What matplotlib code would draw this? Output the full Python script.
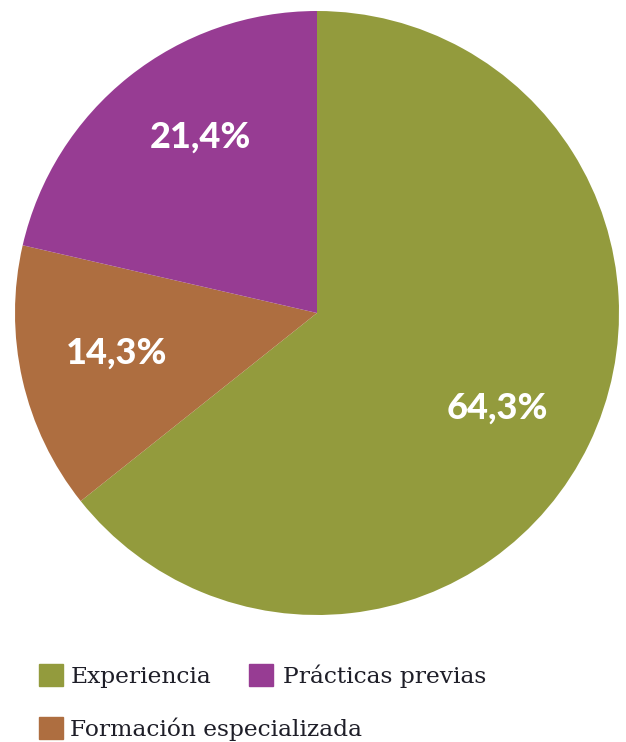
import matplotlib.pyplot as plt
from matplotlib.patches import Patch
import numpy as np

# datos
categorias = ['Experiencia', 'Formación especializada', 'Prácticas previas']
valores = [64.3, 14.3, 21.4]
etiquetas = ['64,3%', '14,3%', '21,4%']
colores = ['#939b3d', '#ae6e40', '#973c93']

W, H = 626, 742
fig = plt.figure(figsize=(W/100, H/100), dpi=100)
ax = fig.add_axes([15/W, 127/H, 604/W, 604/H])

wedges, _ = ax.pie(valores, colors=colores, startangle=90, counterclock=False,
                   radius=1, wedgeprops=dict(linewidth=0))
ax.set_xlim(-1, 1)
ax.set_ylim(-1, 1)
ax.set_aspect('equal')

# etiquetas de porcentaje (distancia al centro y pequeño giro respecto al medio de la porción)
distancias = [0.674, 0.675, 0.70]
giros = [-2.0, -1.5, -5.0]
for w, d, g, t in zip(wedges, distancias, giros, etiquetas):
    mid = np.deg2rad((w.theta1 + w.theta2) / 2 + g)
    ax.text(d*np.cos(mid), d*np.sin(mid), t, ha='center', va='center',
            color='white', fontsize=26, fontweight='black', family='Lato')

# leyenda (una por elemento para colocarlas como en el original)
posiciones = [(39, 676), (39, 729), (249, 676)]
pads = [0.32, 0.32, 0.42]
for cat, col, (x, y), p in zip(categorias, colores, posiciones, pads):
    fig.legend(handles=[Patch(color=col, label=cat)], loc='center left',
               bbox_to_anchor=(x/W, 1-y/H), frameon=False, borderpad=0,
               borderaxespad=0, prop={'family': 'DejaVu Serif', 'size': 16.8},
               labelcolor='#1e1e28', handlelength=1.03, handleheight=1.03,
               handletextpad=p)

fig.savefig('out.png', dpi=100)
